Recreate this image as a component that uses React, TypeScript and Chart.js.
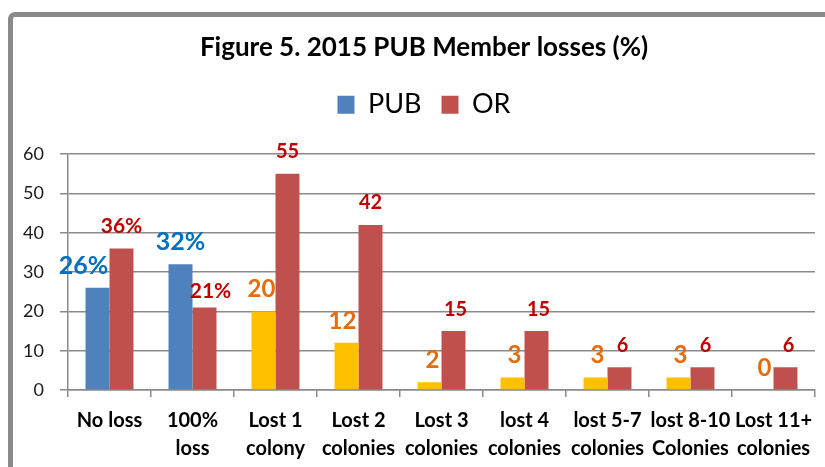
import React, { useEffect, useRef } from "react";
import { Chart, registerables, layouts } from "chart.js";

Chart.register(...registerables);

// ---- data ----
const categories: string[][] = [
  ["No loss"],
  ["100%", "loss"],
  ["Lost 1", "colony"],
  ["Lost 2", "colonies"],
  ["Lost 3", "colonies"],
  ["lost 4", "colonies"],
  ["lost 5-7", "colonies"],
  ["lost 8-10", "Colonies"],
  ["Lost 11+", "colonies"],
];
const pubValues = [26, 32, 20, 12, 2, 3.2, 3.2, 3.2, 0];
const orValues = [36, 21, 55, 42, 15, 15, 5.8, 5.8, 5.8];
const pubLabels = ["26%", "32%", "20", "12", "2", "3", "3", "3", "0"];
const orLabels = ["36%", "21%", "55", "42", "15", "15", "6", "6", "6"];
const yMin = 0;
const yMax = 60;
const yStep = 10;

// ---- styles ----
const FONT = "Lato, 'Noto Sans', sans-serif";
const BLUE = "#4F81BD";
const RED = "#C0504D";
const GOLD = "#FFC000";
const PUB_COLORS = [BLUE, BLUE, GOLD, GOLD, GOLD, GOLD, GOLD, GOLD, GOLD];
const GRID = "#8a8a8a";
const PUB_LABEL_STYLE = { first: { color: "#0070C0", size: 25 }, rest: { color: "#E46C0A", size: 24 } };
const OR_LABEL_STYLE = { first: { color: "#C00000", size: 21 }, rest: { color: "#C00000", size: 20 } };
const LABEL_GAP = 22;
const PUB_DX = [-14, 0, -2, -4, 3, 2, 2, 2, 3];
const OR_DX = [0, 6, 0, 0, 2, 2, 3, 3, 3];
const OR_DY = [0, 6, 0, 0, 0, 0, 0, 0, 0];

function makeSpacer(id: string, position: string, weight: number, size: number) {
  return {
    id,
    beforeInit(chart: any) {
      const box: any = {
        position,
        weight,
        fullSize: false,
        options: {},
        left: 0, top: 0, right: 0, bottom: 0, width: 0, height: 0,
        isHorizontal() {
          return position === "top" || position === "bottom";
        },
        update(maxWidth: number, maxHeight: number) {
          if (this.isHorizontal()) {
            this.width = maxWidth;
            this.height = size;
          } else {
            this.width = size;
            this.height = maxHeight;
          }
        },
        getPadding() {
          return { top: 0, left: 0, right: 0, bottom: 0 };
        },
        draw() {},
      };
      layouts.addBox(chart, box);
    },
  };
}

const labelPlugin = {
  id: "barValueLabels",
  afterDatasetsDraw(chart: any) {
    const ctx = chart.ctx;
    chart.data.datasets.forEach((_ds: any, di: number) => {
      const meta = chart.getDatasetMeta(di);
      const texts = di === 0 ? pubLabels : orLabels;
      const styles = di === 0 ? PUB_LABEL_STYLE : OR_LABEL_STYLE;
      meta.data.forEach((bar: any, i: number) => {
        const st = i < 2 ? styles.first : styles.rest;
        const dx = di === 0 ? PUB_DX[i] : OR_DX[i];
        const dy = di === 0 ? 0 : OR_DY[i];
        ctx.save();
        ctx.font = `bold ${st.size}px ${FONT}`;
        ctx.fillStyle = st.color;
        ctx.textAlign = "center";
        ctx.textBaseline = "middle";
        ctx.fillText(texts[i], bar.x + dx, bar.y - LABEL_GAP + dy);
        ctx.restore();
      });
    });
  },
};

export default function App() {
  const canvasRef = useRef<HTMLCanvasElement | null>(null);

  useEffect(() => {
    if (!canvasRef.current) return;
    const chart = new Chart(canvasRef.current, {
      type: "bar",
      data: {
        labels: categories,
        datasets: [
          {
            label: "PUB",
            data: pubValues,
            backgroundColor: (c: any) => (c.type === "data" ? PUB_COLORS[c.dataIndex] : BLUE),
            borderWidth: 0,
            categoryPercentage: 0.578,
            barPercentage: 1,
          },
          {
            label: "OR",
            data: orValues,
            backgroundColor: RED,
            borderWidth: 0,
            categoryPercentage: 0.578,
            barPercentage: 1,
          },
        ],
      },
      options: {
        responsive: false,
        animation: false,
        layout: { padding: 0 },
        plugins: {
          title: {
            display: true,
            text: "Figure 5. 2015 PUB Member losses (%)",
            color: "#000",
            font: { family: FONT, size: 26, weight: "bold", lineHeight: 1.2 },
            padding: { top: 32, bottom: 8 },
          },
          legend: {
            display: true,
            position: "top",
            labels: {
              boxWidth: 17,
              boxHeight: 18,
              padding: 20,
              color: "#000",
              font: { family: FONT, size: 27 },
            },
          },
          tooltip: { enabled: false },
        },
        scales: {
          x: {
            grid: {
              display: true,
              drawOnChartArea: false,
              offset: true,
              tickLength: 7,
              color: GRID,
              lineWidth: 1.5,
            },
            border: { color: GRID, width: 1.5 },
            ticks: {
              color: "#000",
              font: { family: FONT, size: 20, weight: "bold", lineHeight: 1.4 },
              padding: 10,
              maxRotation: 0,
              minRotation: 0,
              autoSkip: false,
            },
            afterFit: (s: any) => {
              s.height = 77;
            },
          },
          y: {
            min: yMin,
            max: yMax,
            ticks: {
              stepSize: yStep,
              color: "#1a1a1a",
              font: { family: FONT, size: 18 },
              padding: 16,
            },
            grid: { color: GRID, lineWidth: 1.5, tickLength: 8 },
            border: { color: GRID, width: 1.5 },
            afterFit: (s: any) => {
              s.width = 68;
            },
          },
        },
      },
      plugins: [makeSpacer("topSpacer", "top", 500, 26), makeSpacer("rightSpacer", "right", 500, 33), labelPlugin],
    } as any);
    return () => chart.destroy();
  }, []);

  return (
    <div
      style={{
        position: "fixed",
        left: 0,
        top: 0,
        width: 825,
        height: 467,
        overflow: "hidden",
        background: "#fff",
      }}
    >
      <div
        style={{
          position: "absolute",
          left: 8,
          top: 12,
          width: 1000,
          height: 1000,
          border: "5px solid #8a8a8a",
          borderRadius: 7,
          boxSizing: "border-box",
        }}
      />
      <canvas
        ref={canvasRef}
        width={848}
        height={467}
        style={{ position: "absolute", left: 0, top: 0, width: 848, height: 467 }}
      />
    </div>
  );
}
